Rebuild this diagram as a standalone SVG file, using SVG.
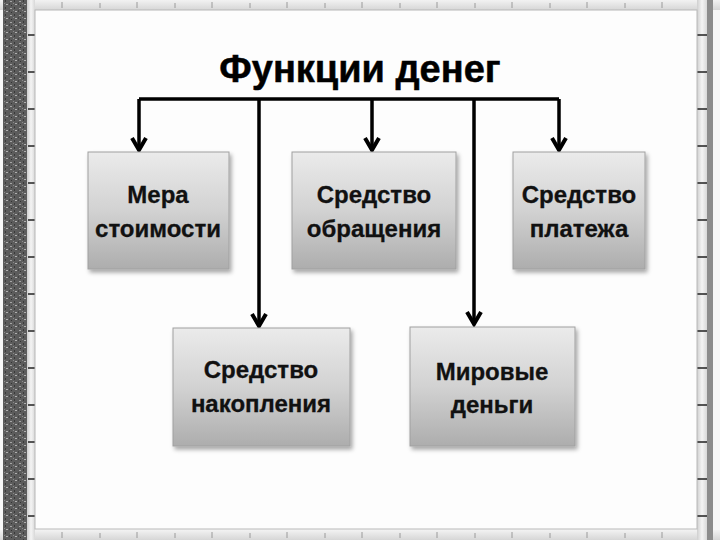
<svg xmlns="http://www.w3.org/2000/svg" width="720" height="540" viewBox="0 0 720 540">
<defs>
<style>
.box{fill:url(#boxg);stroke:#a0a0a0;stroke-width:1;filter:url(#sh)}
.lbl{font-family:"Liberation Sans",Arial,sans-serif;font-weight:bold;font-size:24px;fill:#111;stroke:#111;stroke-width:0.3;text-anchor:middle}
.title{font-family:"Liberation Sans",Arial,sans-serif;font-weight:bold;font-size:38px;fill:#000;stroke:#000;stroke-width:0.5;text-anchor:middle}
.ln{fill:none;stroke:#000;stroke-width:3.5}
.ah{fill:none;stroke:#000;stroke-width:4;stroke-linejoin:miter}
.tick{stroke:#222;stroke-width:1.5}
</style>
<linearGradient id="boxg" x1="0" y1="0" x2="0" y2="1">
<stop offset="0" stop-color="#ebebeb"/>
<stop offset="0.5" stop-color="#d2d2d2"/>
<stop offset="1" stop-color="#adadad"/>
</linearGradient>
<linearGradient id="bandv" x1="0" y1="0" x2="1" y2="0">
<stop offset="0" stop-color="#cfcfcf"/>
<stop offset="0.5" stop-color="#f4f4f4"/>
<stop offset="1" stop-color="#d8d8d8"/>
</linearGradient>
<linearGradient id="bandh" x1="0" y1="0" x2="0" y2="1">
<stop offset="0" stop-color="#f2f2f2"/>
<stop offset="1" stop-color="#d6d6d6"/>
</linearGradient>
<pattern id="noise" width="9" height="7" patternUnits="userSpaceOnUse">
<rect width="9" height="7" fill="#5c5c5c"/>
<rect x="1" y="1" width="2" height="1" fill="#a5a5a5"/>
<rect x="5" y="0" width="1" height="2" fill="#3a3a3a"/>
<rect x="6" y="4" width="2" height="1" fill="#b0b0b0"/>
<rect x="2" y="5" width="1" height="1" fill="#333"/>
<rect x="4" y="3" width="1" height="1" fill="#8a8a8a"/>
<rect x="0" y="3" width="1" height="2" fill="#444"/>
</pattern>
<filter id="sh" x="-10%" y="-10%" width="130%" height="130%">
<feDropShadow dx="2" dy="3" stdDeviation="2" flood-color="#000" flood-opacity="0.35"/>
</filter>
</defs>

<g id="frame">
<rect width="720" height="540" fill="#f7f7f7"/>
<rect x="0" y="0" width="720" height="10" fill="url(#bandh)"/>
<rect x="0" y="530" width="720" height="10" fill="url(#bandh)"/>
<rect x="3" y="0" width="24" height="540" fill="url(#noise)"/>
<rect x="27" y="0" width="8" height="540" fill="url(#bandv)"/>
<rect x="697" y="0" width="10" height="540" fill="url(#bandv)"/>
<rect x="707" y="0" width="6" height="540" fill="#8c8c8c"/>
<g class="tick">
<path d="M28 35h7M28 72h7M28 109h7M28 146h7M28 183h7M28 220h7M28 257h7M28 294h7M28 331h7M28 368h7M28 405h7M28 442h7M28 479h7M28 516h7"/>
<path d="M697 35h10M697 72h10M697 109h10M697 146h10M697 183h10M697 220h10M697 257h10M697 294h10M697 331h10M697 368h10M697 405h10M697 442h10M697 479h10M697 516h10"/>
</g>
<g stroke="#9a9a9a" stroke-width="1">
<path d="M62 2v6M100 3v5M137 2v6M175 3v5M212 2v6M250 3v5M287 2v6M325 3v5M362 2v6M400 3v5M437 2v6M475 3v5M512 2v6M550 3v5M587 2v6M625 3v5M662 2v6"/>
<path d="M62 532v6M100 533v5M137 532v6M175 533v5M212 532v6M250 533v5M287 532v6M325 533v5M362 532v6M400 533v5M437 532v6M475 533v5M512 532v6M550 533v5M587 532v6M625 533v5M662 532v6"/>
</g>
<rect x="35" y="10" width="662" height="519" fill="#fdfdfd" stroke="#b8b8b8" stroke-width="1"/>
</g>

<g id="title">
<text class="title" x="360" y="82">Функции денег</text>
</g>

<g id="connectors">
<path class="ln" d="M139 99H559M139 99V149M259 99V325M372 99V149M474 99V323M559 99V149"/>
<path class="ah" d="M132 138L139 150L146 138M252 314L259 326L266 314M365 138L372 150L379 138M467 312L474 324L481 312M552 138L559 150L566 138"/>
</g>

<g id="n1">
<rect class="box" x="88" y="152" width="141" height="117"/>
<text class="lbl" x="158" y="203">Мера</text>
<text class="lbl" x="158" y="237">стоимости</text>
</g>
<g id="n2">
<rect class="box" x="292" y="152" width="164" height="117"/>
<text class="lbl" x="374" y="203">Средство</text>
<text class="lbl" x="374" y="237">обращения</text>
</g>
<g id="n3">
<rect class="box" x="513" y="152" width="132" height="117"/>
<text class="lbl" x="579" y="203">Средство</text>
<text class="lbl" x="579" y="237">платежа</text>
</g>
<g id="n4">
<rect class="box" x="173" y="328" width="177" height="118"/>
<text class="lbl" x="261" y="378">Средство</text>
<text class="lbl" x="261" y="412">накопления</text>
</g>
<g id="n5">
<rect class="box" x="410" y="327" width="165" height="119"/>
<text class="lbl" x="492" y="380">Мировые</text>
<text class="lbl" x="492" y="413">деньги</text>
</g>
</svg>
